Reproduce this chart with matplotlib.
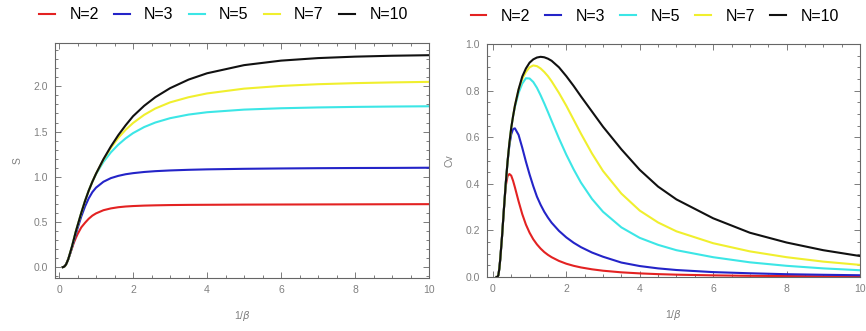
import numpy as np
import matplotlib.pyplot as plt
from matplotlib.ticker import MultipleLocator

# %%
# values
labels = ['N=2', 'N=3', 'N=5', 'N=7', 'N=10']
colors = ['#e32222', '#2424c8', '#3ce6e6', '#f0ef2e', '#111111']

# entropy panel
t_s = [0.1, 0.125, 0.15, 0.175, 0.2, 0.25, 0.3, 0.35, 0.4, 0.45, 0.5, 0.6, 0.7, 0.8, 0.9, 1.0,
       1.2, 1.4, 1.6, 1.8, 2.0, 2.3, 2.6, 3.0, 3.5, 4.0, 5.0, 6.0, 7.0, 8.0, 9.0, 10.0]
s_n2 = [0.0, 0.003, 0.01, 0.022, 0.04, 0.09, 0.15, 0.21, 0.27, 0.32, 0.365, 0.44, 0.49, 0.535, 0.57, 0.595,
        0.63, 0.65, 0.663, 0.671, 0.676, 0.681, 0.684, 0.687, 0.689, 0.69, 0.692, 0.693, 0.694, 0.695, 0.696, 0.697]
s_n3 = [0.0, 0.003, 0.01, 0.022, 0.04, 0.09, 0.15, 0.22, 0.29, 0.36, 0.43, 0.56, 0.67, 0.76, 0.83, 0.88,
        0.945, 0.985, 1.01, 1.028, 1.04, 1.053, 1.062, 1.07, 1.077, 1.082, 1.088, 1.092, 1.095, 1.097, 1.098, 1.10]
s_n5 = [0.0, 0.003, 0.01, 0.022, 0.04, 0.09, 0.16, 0.23, 0.31, 0.39, 0.46, 0.60, 0.73, 0.845, 0.945, 1.03,
        1.165, 1.27, 1.355, 1.425, 1.483, 1.55, 1.60, 1.648, 1.688, 1.714, 1.743, 1.758, 1.767, 1.773, 1.777, 1.78]
s_n7 = [0.0, 0.003, 0.01, 0.022, 0.04, 0.09, 0.16, 0.23, 0.31, 0.39, 0.46, 0.60, 0.73, 0.845, 0.945, 1.035,
        1.19, 1.32, 1.43, 1.52, 1.595, 1.685, 1.755, 1.823, 1.88, 1.922, 1.975, 2.005, 2.024, 2.036, 2.044, 2.05]
s_n10 = [0.0, 0.003, 0.01, 0.022, 0.04, 0.09, 0.16, 0.23, 0.31, 0.39, 0.46, 0.60, 0.73, 0.845, 0.945, 1.035,
         1.195, 1.335, 1.46, 1.57, 1.67, 1.785, 1.88, 1.98, 2.075, 2.145, 2.235, 2.285, 2.313, 2.329, 2.339, 2.345]

# heat capacity panel
t_c = [0.1, 0.125, 0.15, 0.175, 0.2, 0.25, 0.3, 0.35, 0.4, 0.45, 0.5, 0.55, 0.6, 0.7, 0.8, 0.9, 1.0, 1.1,
       1.2, 1.3, 1.4, 1.5, 1.6, 1.8, 2.0, 2.2, 2.4, 2.7, 3.0, 3.5, 4.0, 4.5, 5.0, 6.0, 7.0, 8.0, 9.0, 10.0]
cv_n2 = [0.0, 0.0, 0.008, 0.035, 0.075, 0.175, 0.29, 0.39, 0.433, 0.442, 0.435, 0.413, 0.385, 0.325, 0.27,
         0.225, 0.19, 0.162, 0.14, 0.122, 0.107, 0.095, 0.085, 0.069, 0.057, 0.048, 0.041, 0.033, 0.027,
         0.02, 0.0155, 0.0123, 0.01, 0.007, 0.005, 0.004, 0.003, 0.0025]
cv_n3 = [0.0, 0.0, 0.008, 0.035, 0.075, 0.175, 0.29, 0.40, 0.495, 0.565, 0.612, 0.635, 0.638, 0.61, 0.555,
         0.495, 0.44, 0.39, 0.345, 0.31, 0.28, 0.255, 0.233, 0.198, 0.17, 0.147, 0.128, 0.105, 0.087,
         0.062, 0.047, 0.037, 0.03, 0.021, 0.016, 0.012, 0.0095, 0.0075]
cv_n5 = [0.0, 0.0, 0.008, 0.035, 0.075, 0.175, 0.29, 0.40, 0.495, 0.575, 0.64, 0.69, 0.73, 0.79, 0.83,
         0.853, 0.852, 0.837, 0.812, 0.78, 0.745, 0.708, 0.67, 0.595, 0.525, 0.462, 0.405, 0.335, 0.28,
         0.213, 0.168, 0.138, 0.115, 0.085, 0.063, 0.048, 0.037, 0.029]
cv_n7 = [0.0, 0.0, 0.008, 0.035, 0.075, 0.175, 0.29, 0.40, 0.495, 0.575, 0.64, 0.69, 0.735, 0.805, 0.85,
         0.88, 0.90, 0.908, 0.905, 0.895, 0.88, 0.862, 0.84, 0.79, 0.735, 0.675, 0.615, 0.53, 0.455,
         0.358, 0.285, 0.234, 0.196, 0.145, 0.11, 0.085, 0.066, 0.052]
cv_n10 = [0.0, 0.0, 0.008, 0.035, 0.075, 0.175, 0.29, 0.40, 0.495, 0.575, 0.64, 0.69, 0.735, 0.805, 0.86,
          0.895, 0.92, 0.934, 0.942, 0.945, 0.943, 0.937, 0.928, 0.90, 0.862, 0.82, 0.775, 0.71, 0.645,
          0.548, 0.46, 0.388, 0.333, 0.252, 0.19, 0.148, 0.115, 0.09]

s_all = [s_n2, s_n3, s_n5, s_n7, s_n10]
cv_all = [cv_n2, cv_n3, cv_n5, cv_n7, cv_n10]

# %%
plt.rcParams['font.family'] = ['Liberation Sans', 'DejaVu Sans']
plt.rcParams['mathtext.fontset'] = 'dejavusans'
gray = '#808080'
frame = '#666666'

fig = plt.figure(figsize=(8.66, 3.31), dpi=100)
ax1 = fig.add_axes([55/866, 53/331, 374/866, 235/331])
ax2 = fig.add_axes([487/866, 54/331, 373/866, 233/331])

for lab, col, s in zip(labels, colors, s_all):
    ax1.plot(t_s, s, color=col, lw=1.5, label=lab)
for lab, col, cv in zip(labels, colors, cv_all):
    ax2.plot(t_c, cv, color=col, lw=1.5, label=lab)

ax1.set(xlim=(-0.11, 10), ylim=(-0.12, 2.48))
ax2.set(xlim=(-0.16, 10), ylim=(0, 1.0))
ax1.xaxis.set_major_locator(MultipleLocator(2))
ax1.xaxis.set_minor_locator(MultipleLocator(0.5))
ax1.yaxis.set_major_locator(MultipleLocator(0.5))
ax1.yaxis.set_minor_locator(MultipleLocator(0.1))
ax2.xaxis.set_major_locator(MultipleLocator(2))
ax2.xaxis.set_minor_locator(MultipleLocator(0.5))
ax2.yaxis.set_major_locator(MultipleLocator(0.2))
ax2.yaxis.set_minor_locator(MultipleLocator(0.05))
ax1.yaxis.set_major_formatter(lambda v, p: f'{v:.1f}')
ax2.yaxis.set_major_formatter(lambda v, p: f'{v:.1f}')

for ax, ylab in [(ax1, 'S'), (ax2, 'Cv')]:
    for sp in ax.spines.values():
        sp.set_color(frame)
        sp.set_linewidth(0.8)
    ax.tick_params(which='both', direction='in', top=True, right=True,
                   colors=frame, labelcolor=gray, labelsize=7.5, width=0.6)
    ax.tick_params(which='major', length=4, pad=5)
    ax.tick_params(which='minor', length=2)
    ax.set_xlabel('1/$\\beta$', color=gray, fontsize=7.5, labelpad=10)
    ax.set_ylabel(ylab, color=gray, fontsize=7.5, labelpad=8)
    ax.legend(loc='center', bbox_to_anchor=(0.45, 1.12), ncol=5, frameon=False,
              fontsize=11.5, handlelength=1.0, handletextpad=0.9, columnspacing=0.95)

fig.savefig('out.png', dpi=100)
